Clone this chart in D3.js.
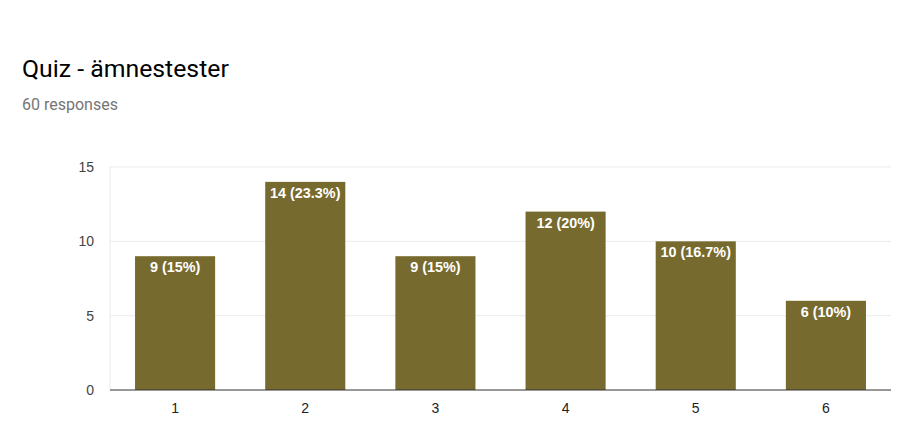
<!DOCTYPE html>
<html>
<head>
<meta charset="utf-8">
<script src="https://cdn.jsdelivr.net/npm/d3@7"></script>
<style>
  body { margin: 0; background: #fff; }
</style>
</head>
<body>
<div id="chart"></div>
<script>
// chart values
const title = "Quiz - ämnestester";
const subtitle = "60 responses";
const categories = ["1", "2", "3", "4", "5", "6"];
const counts = [9, 14, 9, 12, 10, 6];
const labels = ["9 (15%)", "14 (23.3%)", "9 (15%)", "12 (20%)", "10 (16.7%)", "6 (10%)"];
const yTicks = [0, 5, 10, 15];

const W = 916, H = 433;
const m = {left: 110, right: 25, top: 167, bottom: 43};

const svg = d3.select("#chart").append("svg")
    .attr("width", W)
    .attr("height", H);

svg.append("text")
    .attr("x", 22).attr("y", 77)
    .style("font-family", "Roboto, Arial, sans-serif")
    .style("font-size", "24.8px")
    .style("fill", "#000")
    .text(title);

svg.append("text")
    .attr("x", 22).attr("y", 110)
    .style("font-family", "Roboto, Arial, sans-serif")
    .style("font-size", "16px")
    .style("fill", "#757575")
    .text(subtitle);

const x = d3.scaleBand()
    .domain(categories)
    .range([m.left, W - m.right])
    .paddingInner(50 / 130)
    .paddingOuter(25 / 130);

const y = d3.scaleLinear()
    .domain([0, 15])
    .range([H - m.bottom, m.top]);

const g = svg.append("g");

// gridlines
g.selectAll("line.grid")
    .data(yTicks.filter(d => d > 0))
    .join("line")
    .attr("class", "grid")
    .attr("x1", m.left).attr("x2", W - m.right)
    .attr("y1", d => y(d)).attr("y2", d => y(d))
    .style("stroke", "#ebebeb")
    .style("stroke-width", 1);

g.append("line")
    .attr("x1", m.left).attr("x2", m.left)
    .attr("y1", y(15)).attr("y2", y(0))
    .style("stroke", "#ebebeb");

// y labels
g.selectAll("text.ytick")
    .data(yTicks)
    .join("text")
    .attr("class", "ytick")
    .attr("x", 94)
    .attr("y", d => y(d))
    .attr("dy", "0.36em")
    .attr("text-anchor", "end")
    .style("font-family", "Arial, 'Liberation Sans', sans-serif")
    .style("font-size", "14px")
    .style("fill", "#444")
    .text(d => d);

// bars
g.selectAll("rect.bar")
    .data(counts)
    .join("rect")
    .attr("class", "bar")
    .attr("x", (d, i) => x(categories[i]))
    .attr("width", x.bandwidth())
    .attr("y", d => y(d))
    .attr("height", d => y(0) - y(d))
    .style("fill", "#776a2f");

g.selectAll("text.val")
    .data(counts)
    .join("text")
    .attr("class", "val")
    .attr("x", (d, i) => x(categories[i]) + x.bandwidth() / 2)
    .attr("y", d => y(d) + 16)
    .attr("text-anchor", "middle")
    .style("font-family", "Arial, 'Liberation Sans', sans-serif")
    .style("font-size", "14.4px")
    .style("font-weight", "bold")
    .style("fill", "#fff")
    .text((d, i) => labels[i]);

// baseline
g.append("line")
    .attr("x1", m.left).attr("x2", W - m.right)
    .attr("y1", y(0)).attr("y2", y(0))
    .style("stroke", "#333")
    .style("stroke-width", 1);

// x labels
g.selectAll("text.xtick")
    .data(categories)
    .join("text")
    .attr("class", "xtick")
    .attr("x", d => x(d) + x.bandwidth() / 2)
    .attr("y", 413)
    .attr("text-anchor", "middle")
    .style("font-family", "Arial, 'Liberation Sans', sans-serif")
    .style("font-size", "14px")
    .style("fill", "#222")
    .text(d => d);
</script>
</body>
</html>
